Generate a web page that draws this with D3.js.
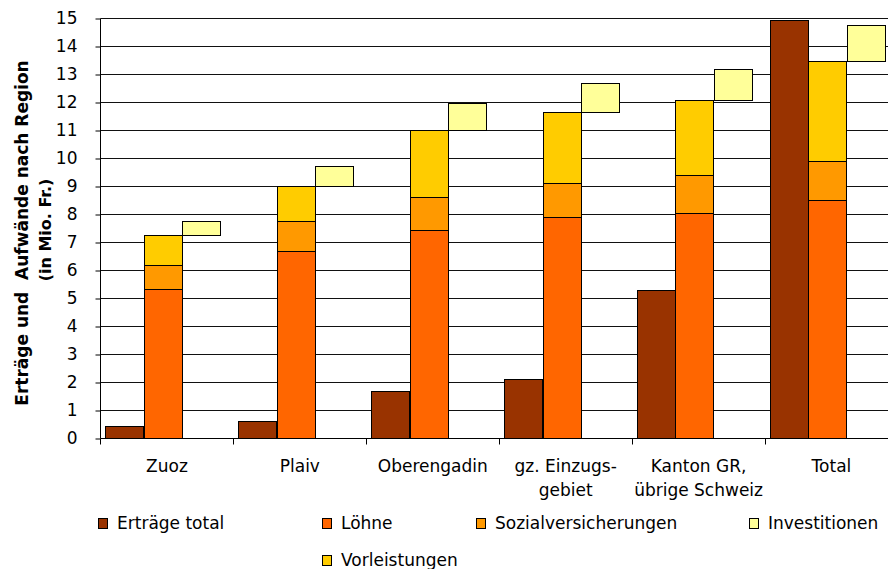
<!DOCTYPE html>
<html>
<head>
<meta charset="utf-8">
<script src="https://cdn.jsdelivr.net/npm/d3@7"></script>
<style>
  body { margin: 0; background: #fff; }
  svg { display: block; font-family: "DejaVu Sans", Verdana, sans-serif; }
</style>
</head>
<body>
<svg id="chart" width="888" height="569"></svg>
<script>
// categories (each entry = label lines)
var categories = ["Zuoz", "Plaiv", "Oberengadin", "gz. Einzugsgebiet", "Kanton GR, übrige Schweiz", "Total"];
var categoryLines = [["Zuoz"], ["Plaiv"], ["Oberengadin"], ["gz. Einzugs-", "gebiet"], ["Kanton GR,", "übrige Schweiz"], ["Total"]];

// values in Mio. Fr.
var ertraege = [0.44, 0.60, 1.68, 2.12, 5.27, 14.94];
var loehne   = [5.31, 6.68, 7.44, 7.89, 8.05, 8.50];
var sozial   = [0.86, 1.08, 1.17, 1.23, 1.33, 1.38];
var vorl     = [1.07, 1.25, 2.38, 2.53, 2.69, 3.60];
var invest   = [0.52, 0.72, 0.97, 1.04, 1.12, 1.28];

var yTicks = [0, 1, 2, 3, 4, 5, 6, 7, 8, 9, 10, 11, 12, 13, 14, 15];

var colors = {
  ertraege: "#993300",
  loehne: "#FF6600",
  sozial: "#FF9900",
  invest: "#FFFF99",
  vorl: "#FFCC00"
};

var legendItems = [
  {key: "ertraege", label: "Erträge total", x: 98, y: 523},
  {key: "loehne", label: "Löhne", x: 322, y: 523},
  {key: "sozial", label: "Sozialversicherungen", x: 476, y: 523},
  {key: "invest", label: "Investitionen", x: 749, y: 523},
  {key: "vorl", label: "Vorleistungen", x: 322, y: 560}
];

var svg = d3.select("#chart"),
    margin = {top: 18, left: 100},
    bandW = 132.9,
    width = bandW * categories.length,
    height = 420;

var rows = categories.map(function(c, i) {
  return {cat: c, ertraege: ertraege[i], loehne: loehne[i], sozial: sozial[i], vorl: vorl[i], invest: invest[i]};
});

var x = d3.scaleBand().domain(categories).range([0, width]).padding(0);
var x1 = d3.scaleBand().domain(["ertraege", "aufwand", "invest"])
  .range([x.bandwidth() * 0.04, x.bandwidth() * 0.909]).padding(0);
var y = d3.scaleLinear().domain([0, 15]).range([height, 0]);

var g = svg.append("g")
  .attr("transform", "translate(" + (margin.left + 0.5) + "," + (margin.top + 0.5) + ")");

// gridlines
g.selectAll(".grid")
  .data(yTicks.slice(1))
  .enter()
  .append("line")
  .attr("class", "grid")
  .attr("x1", 0)
  .attr("x2", width)
  .attr("y1", function(d) { return Math.round(y(d)); })
  .attr("y2", function(d) { return Math.round(y(d)); })
  .attr("stroke", "#111")
  .attr("stroke-width", 1);

// Erträge bars
g.selectAll(".ertrag")
  .data(rows)
  .enter()
  .append("rect")
  .attr("class", "ertrag")
  .attr("x", function(d) { return Math.round(x(d.cat) + x1("ertraege")); })
  .attr("width", Math.round(x1.bandwidth()))
  .attr("y", function(d) { return Math.round(y(d.ertraege)); })
  .attr("height", function(d) { return Math.round(y(0)) - Math.round(y(d.ertraege)); })
  .attr("fill", colors.ertraege)
  .attr("stroke", "#000");

// stacked Aufwände, invest floats on top in its own slot
var stack = d3.stack().keys(["loehne", "sozial", "vorl", "invest"]);
var layers = stack(rows);

layers.forEach(function(layer) {
  var slot = layer.key == "invest" ? "invest" : "aufwand";
  g.selectAll(".seg-" + layer.key)
    .data(layer)
    .enter()
    .append("rect")
    .attr("class", "seg-" + layer.key)
    .attr("x", function(d) { return Math.round(x(d.data.cat) + x1(slot)); })
    .attr("width", Math.round(x1.bandwidth()))
    .attr("y", function(d) { return Math.round(y(d[1])); })
    .attr("height", function(d) { return Math.round(y(d[0])) - Math.round(y(d[1])); })
    .attr("fill", colors[layer.key])
    .attr("stroke", "#000");
});

// y axis
var yAxis = g.append("g")
  .attr("class", "y axis")
  .call(d3.axisLeft(y).tickValues(yTicks).tickSize(5).tickPadding(18).tickFormat(d3.format("d")));
yAxis.select(".domain").attr("d", "M0," + y(15) + "V" + y(0)).attr("stroke", "#000");
yAxis.selectAll(".tick line").attr("stroke", "#000");
yAxis.selectAll("text").attr("font-size", 17).attr("fill", "#000")
  .attr("font-family", "DejaVu Sans, sans-serif");

// x axis
var xAxis = g.append("g")
  .attr("transform", "translate(0," + height + ")");
xAxis.append("line")
  .attr("x1", 0).attr("x2", width)
  .attr("stroke", "#000");
xAxis.selectAll(".xtick")
  .data(d3.range(categories.length + 1))
  .enter()
  .append("line")
  .attr("class", "xtick")
  .attr("x1", function(i) { return Math.round(i * x.step()); })
  .attr("x2", function(i) { return Math.round(i * x.step()); })
  .attr("y1", 0)
  .attr("y2", 6)
  .attr("stroke", "#000");

var labels = xAxis.selectAll(".xlabel")
  .data(rows)
  .enter()
  .append("text")
  .attr("class", "xlabel")
  .attr("text-anchor", "middle")
  .attr("font-size", 17)
  .attr("fill", "#000")
  .attr("transform", function(d) { return "translate(" + (x(d.cat) + x.bandwidth() / 2) + ",0)"; });

labels.selectAll("tspan")
  .data(function(d, i) { return categoryLines[i]; })
  .enter()
  .append("tspan")
  .attr("x", 0)
  .attr("y", function(d, i) { return 33 + i * 24; })
  .text(function(d) { return d; });

// y title
var title = svg.append("text")
  .attr("transform", "translate(0,0) rotate(-90)")
  .attr("text-anchor", "middle")
  .attr("font-weight", "bold")
  .attr("font-size", 17)
  .attr("fill", "#000")
  .style("white-space", "pre");
title.append("tspan").attr("x", -233).attr("y", 28).text("Erträge und  Aufwände nach Region");
title.append("tspan").attr("x", -230).attr("y", 51).attr("font-size", 16).text("(in Mio. Fr.)");

// legend
var legend = svg.selectAll(".legend")
  .data(legendItems)
  .enter()
  .append("g")
  .attr("class", "legend")
  .attr("transform", function(d) { return "translate(" + d.x + "," + d.y + ")"; });

legend.append("rect")
  .attr("x", 0.5)
  .attr("y", -4.5)
  .attr("width", 9)
  .attr("height", 10)
  .attr("fill", function(d) { return colors[d.key]; })
  .attr("stroke", "#000");

legend.append("text")
  .attr("x", 19)
  .attr("y", 6)
  .attr("font-size", 17)
  .attr("fill", "#000")
  .text(function(d) { return d.label; });
</script>
</body>
</html>
